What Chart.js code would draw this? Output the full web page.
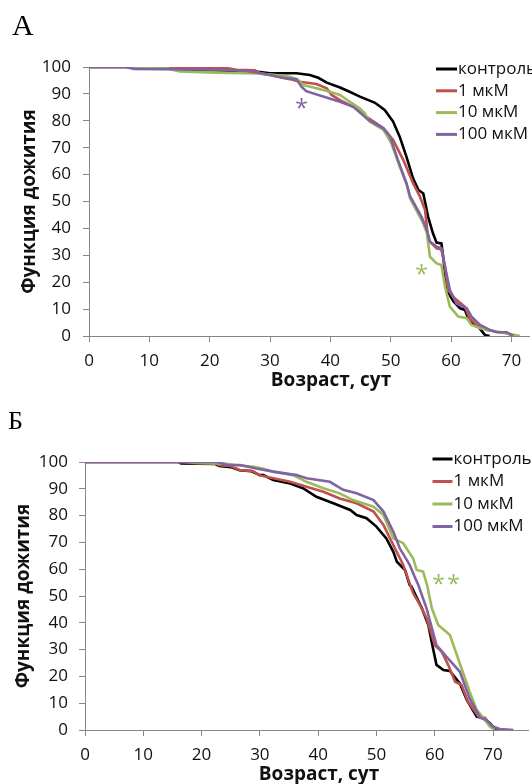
<!DOCTYPE html>
<html><head><meta charset="utf-8">
<script src="https://cdn.jsdelivr.net/npm/chart.js@4.4.1/dist/chart.umd.min.js"></script>
<style>
html,body{margin:0;padding:0;background:#fff;overflow:hidden}
#wrap{position:relative;width:532px;height:784px}
.panel{position:absolute;left:0;width:532px;height:392px}
</style></head><body>
<div id="wrap">
<div class="panel" style="top:0"><canvas id="cA" width="532" height="392"></canvas></div>
<div class="panel" style="top:392px"><canvas id="cB" width="532" height="392"></canvas></div>
</div>
<script>
// ---- data: [age (days), survival (%)] ----
const seriesLabels = ['контроль', '1 мкМ', '10 мкМ', '100 мкМ'];
const seriesColors = ['#000000', '#c0504d', '#9bbb59', '#8064a2'];
const xTickValues = [0, 10, 20, 30, 40, 50, 60, 70];
const yTickValues = [0, 10, 20, 30, 40, 50, 60, 70, 80, 90, 100];

const aControl = [[0,100],[10,100],[14,99.3],[20,98.8],[25,98.5],[28,98.2],[30,97.7],[34.4,97.7],[36.6,97],[38,96],[39.4,94.2],[41.6,92.4],[43,91],[44.9,89],[47.4,86.7],[49,84],[50.4,79.7],[51.5,74],[52.6,66.7],[53.7,58.6],[54.6,54.3],[55.4,53],[56.2,44.3],[57,38.2],[57.6,34.7],[58.4,34.4],[58.7,29.5],[59.3,17.1],[60.4,12.8],[61.5,10.3],[62.3,9.7],[63.1,5.3],[64.5,3.5],[65.6,0.4],[66.4,0]];
const a1 = [[0,100],[10,100],[11,99.5],[23,99.5],[24.5,99],[27.5,98.8],[28.5,97.5],[30,97],[32,96],[33.3,95.5],[34.9,94.5],[37.7,93.7],[39.4,92.1],[40.2,89.6],[41.6,87.7],[43.8,85.2],[46,81.5],[48.8,77.2],[50.4,72.9],[52.1,65.4],[53.7,56.8],[54.8,52],[55.7,46.8],[56.2,35.7],[57.6,32.6],[58.4,32.2],[59,25.8],[59.5,17.1],[60.6,14],[62.3,10.9],[63.1,6.6],[64.2,4.1],[65.9,2.2],[67.6,1.6],[69.2,1.2],[70.3,0]];
const a10 = [[0,100],[12,100],[15,98.3],[21,97.9],[28,97.6],[31,97],[33.3,96.4],[34.5,95.5],[35.5,93.3],[37.7,92.1],[39.9,90.8],[41.6,89.6],[43.2,87.1],[44.9,84.6],[45.7,82.8],[46.5,79.7],[48.8,76.6],[50.1,71.6],[51.5,62.9],[52.6,56.8],[53.2,51.2],[55.4,41.9],[56,38.2],[56.5,29.5],[57.6,27],[58.4,26.4],[59,18.3],[59.8,10.9],[61.2,7.2],[62.6,6.6],[63.4,4.1],[64.8,2.9],[67.6,1.6],[69.8,0.7],[71.4,0]];
const a100 = [[0,100],[6,100],[7.5,99.3],[22,99],[26,98.5],[29,97.5],[32.2,96],[34.4,95.4],[35.2,92.7],[36,91],[38.8,89],[41.6,87.1],[43.8,85.2],[46.3,80.3],[48.8,77.2],[49.9,74.1],[51.2,65.4],[52.6,56.8],[53.2,52],[55.1,44.3],[56,39.4],[56.5,35.1],[57.6,33.2],[58.4,32.6],[59,25.8],[59.8,17.1],[60.9,12.1],[62.6,10.3],[63.4,7.2],[64.8,4.1],[66.5,2.2],[67.6,1.4],[69.2,1.4],[70.3,0]];

const bControl = [[0,100],[16,100],[16.5,99.5],[22.3,99.3],[23,98.5],[25,98.1],[26.5,96.9],[28.5,96.6],[30,95.1],[30.6,95.1],[32.3,93.3],[35.2,92],[37.4,90.2],[39.7,87],[42.6,84.6],[45.5,82.1],[46.6,80.2],[48.3,79],[50,75.9],[51.7,71.5],[52.9,66.5],[53.5,62.8],[54.9,59.7],[55.7,54.1],[56,53.5],[57.8,45.4],[58.9,39.2],[59.7,30.5],[60.3,24.3],[61.5,22.4],[62.6,22],[64.3,17.4],[65.5,11.2],[67.2,5],[68.3,4.4],[69.5,2.5],[70.3,0.4],[71.2,0]];
const b1 = [[0,100],[17,100],[18,99.6],[22.5,99.5],[23,98.8],[25,98.5],[26.5,97],[28.8,96.6],[30,95],[32.3,93.9],[35.2,92.6],[38,90.8],[40.9,88.9],[43.7,86.4],[46.6,84.6],[49.5,81.5],[51.2,76.5],[52.9,69],[54.6,61.6],[56.3,51],[57.5,46.6],[58.6,41.7],[60,31.7],[61.2,29.2],[62.3,24.3],[63.5,18],[64.6,16.8],[65.7,10.6],[67.5,5],[68.6,4.6],[69.5,1.9],[71.2,0]];
const b10 = [[0,100],[18,100],[19,99.6],[24,99.4],[26,98.8],[29,98.2],[30.6,97.5],[32.3,96.4],[35.7,95.1],[38,92.6],[40.9,90.2],[43.7,88.3],[46,85.8],[49.5,83.3],[51.2,80.2],[52.9,71.5],[54.6,69.7],[56.3,64],[56.9,59.7],[58,59.1],[58.7,54],[59.5,45.4],[60.6,39.2],[62.6,35.4],[63.8,28],[64.9,21.1],[66,14.3],[67.2,7.5],[68.3,4.6],[69.5,1.2],[70.3,0]];
const b100 = [[0,100],[22.6,100],[24.3,99],[26.6,98.9],[29.4,97.6],[32.3,96.4],[36.3,95.1],[38,93.9],[42,92.6],[44.3,89.6],[46.6,88.3],[49.5,85.8],[51.2,81.5],[52.9,74],[54,67.8],[55.7,61.6],[56.5,57.5],[57.2,54],[58.6,45.4],[60.3,31.7],[62,27.4],[64.3,21.8],[66,11.8],[67.8,4.6],[68.9,3.7],[70,1.2],[71.2,0.4],[73.5,0]];

// ---- drawing ----
const FONT = "'Open Sans', 'DejaVu Sans', sans-serif";
function drawCentered(ctx, text, cx, cy) {
  ctx.textAlign = 'center';
  ctx.textBaseline = 'alphabetic';
  const m = ctx.measureText(text);
  ctx.fillText(text, cx, cy + (m.actualBoundingBoxAscent - m.actualBoundingBoxDescent) / 2);
}
const overlay = {
  id: 'overlay',
  afterDraw(chart, args, o) {
    const ctx = chart.ctx;
    ctx.save();
    ctx.fillStyle = '#000';
    ctx.font = o.letterFont;
    ctx.textAlign = 'left'; ctx.textBaseline = 'alphabetic';
    ctx.fillText(o.letter, o.letterX, o.letterY);
    ctx.fillStyle = '#111';
    ctx.font = "bold 19px " + FONT;
    drawCentered(ctx, o.xTitle, o.xTitleX, o.xTitleY);
    chart.data.datasets.forEach((ds, i) => {
      const y = o.legY + i * o.legGap;
      ctx.strokeStyle = ds.borderColor; ctx.lineWidth = 3;
      ctx.beginPath(); ctx.moveTo(o.legX, y); ctx.lineTo(o.legX + o.legLen, y); ctx.stroke();
      ctx.fillStyle = '#111'; ctx.font = "17px " + FONT;
      ctx.textAlign = 'left'; ctx.textBaseline = 'middle';
      ctx.fillText(ds.label, o.legX + o.legLen + 1, y);
    });
    ctx.font = "23px " + FONT;
    o.stars.forEach(s => { ctx.fillStyle = s.color; drawCentered(ctx, '*', s.x, s.y); });
    ctx.restore();
  }
};

function makePanel(id, series, L) {
  new Chart(document.getElementById(id), {
    type: 'line',
    data: {
      datasets: series.map((d, i) => ({
        label: seriesLabels[i], data: d,
        borderColor: seriesColors[i], backgroundColor: seriesColors[i],
        borderWidth: 2.6, pointRadius: 0, tension: 0, fill: false,
        order: 4 - i
      }))
    },
    options: {
      responsive: false, animation: false,
      layout: { padding: { top: L.top, right: L.right, bottom: 0, left: 0 } },
      plugins: { legend: { display: false }, tooltip: { enabled: false }, overlay: L.overlay },
      scales: {
        x: {
          type: 'linear', min: 0, max: L.xMax,
          afterBuildTicks: s => { s.ticks = xTickValues.map(v => ({ value: v })); },
          afterFit: s => { s.height = L.xHeight; },
          ticks: { font: { family: FONT, size: 17 }, color: '#111', padding: 9, maxRotation: 0 },
          grid: { drawOnChartArea: false, tickLength: 6, color: '#868686' },
          border: { color: '#868686', width: 1 }
        },
        y: {
          min: 0, max: 100,
          afterBuildTicks: s => { s.ticks = yTickValues.map(v => ({ value: v })); },
          afterFit: s => { s.width = L.yWidth; },
          ticks: { font: { family: FONT, size: 17 }, color: '#111', padding: L.yPad },
          grid: { drawOnChartArea: false, tickLength: 6, color: '#868686' },
          border: { color: '#868686', width: 1 },
          title: { display: true, text: 'Функция дожития', color: '#111',
                   font: { family: FONT, size: 19, weight: 'bold' }, padding: { top: L.yTitlePad, bottom: 0 } }
        }
      }
    },
    plugins: [overlay]
  });
}

makePanel('cA', [aControl, a1, a10, a100], {
  top: 67, right: 2.5, xMax: 73, xHeight: 56, yWidth: 89, yPad: 12, yTitlePad: 17.8,
  overlay: { letter: 'А', letterFont: "30px 'Liberation Serif', serif", letterX: 12, letterY: 35,
    xTitle: 'Возраст, сут', xTitleX: 331, xTitleY: 381.5,
    legX: 436, legLen: 21, legY: 69, legGap: 21.8,
    stars: [{ x: 301.7, y: 103.3, color: '#8064a2' }, { x: 421.7, y: 269, color: '#9bbb59' }] }
});
makePanel('cB', [bControl, b1, b10, b100], {
  top: 70, right: 4, xMax: 76, xHeight: 54, yWidth: 85, yPad: 11, yTitlePad: 12.6,
  overlay: { letter: 'Б', letterFont: "26px 'Liberation Serif', serif", letterX: 8, letterY: 37,
    xTitle: 'Возраст, сут', xTitleX: 319, xTitleY: 383,
    legX: 432.5, legLen: 20, legY: 67, legGap: 22.5,
    stars: [{ x: 438.5, y: 187.3, color: '#9bbb59' }, { x: 453.5, y: 187.3, color: '#9bbb59' }] }
});
</script>
</body></html>
